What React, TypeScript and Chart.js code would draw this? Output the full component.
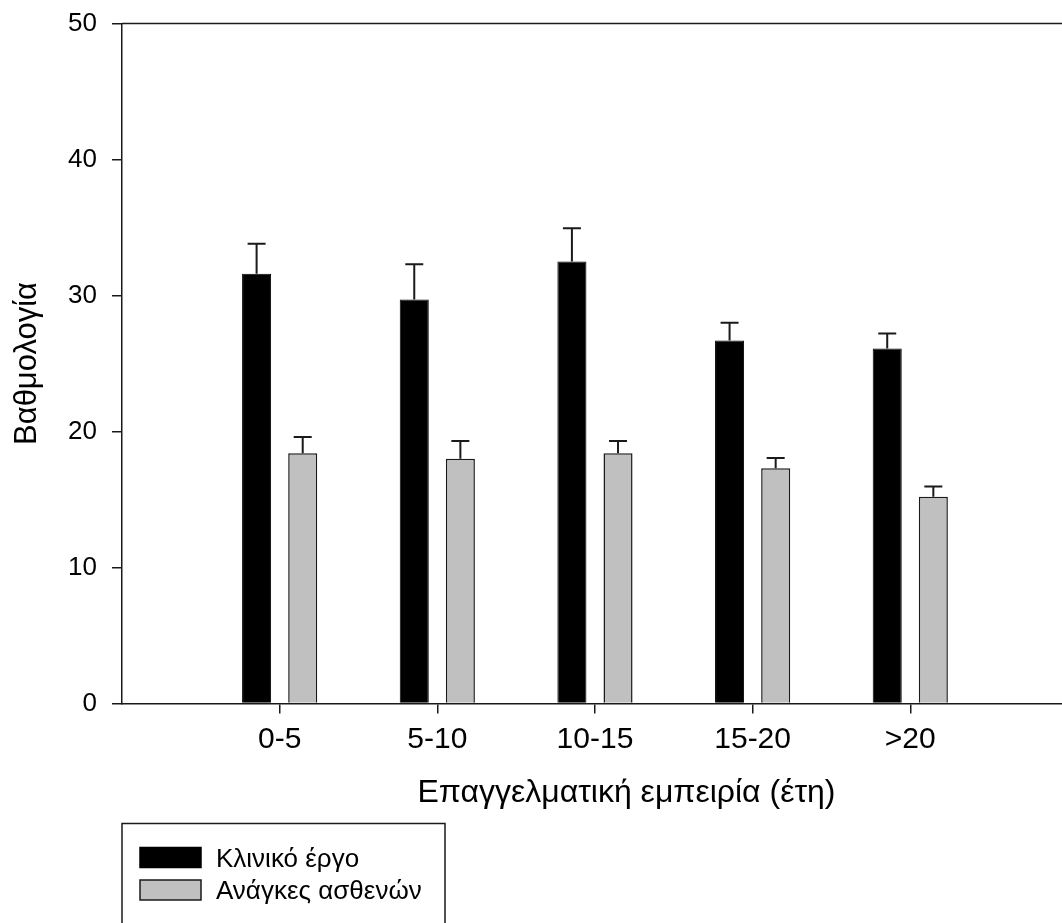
import React, { useEffect, useRef } from 'react';
import { Chart, registerables } from 'chart.js';

Chart.register(...registerables);

const categories = ['0-5', '5-10', '10-15', '15-20', '>20'];
const seriesLabels = ['Κλινικό έργο', 'Ανάγκες ασθενών'];
const clinicalWork = [31.6, 29.7, 32.5, 26.7, 26.1];
const clinicalWorkErr = [2.2, 2.6, 2.45, 1.3, 1.1];
const patientNeeds = [18.4, 18.0, 18.4, 17.3, 15.2];
const patientNeedsErr = [1.2, 1.3, 0.9, 0.75, 0.75];
const yTicks = [0, 10, 20, 30, 40, 50];
const xTitle = 'Επαγγελματική εμπειρία (έτη)';
const yTitle = 'Βαθμολογία';

const FONT = '"Liberation Sans", Arial, sans-serif';
const INK = '#1a1a1a';

const errorBarPlugin = {
  id: 'errorBars',
  afterDatasetsDraw(chart: any) {
    const ctx = chart.ctx;
    const yScale = chart.scales.y;
    chart.data.datasets.forEach((ds: any, di: number) => {
      const meta = chart.getDatasetMeta(di);
      meta.data.forEach((bar: any, i: number) => {
        const v = ds.data[i].y + ds.errors[i];
        const top = yScale.getPixelForValue(v);
        ctx.save();
        ctx.strokeStyle = INK;
        ctx.lineWidth = 2;
        ctx.beginPath();
        ctx.moveTo(bar.x, bar.y);
        ctx.lineTo(bar.x, top);
        ctx.moveTo(bar.x - 9, top);
        ctx.lineTo(bar.x + 9, top);
        ctx.stroke();
        ctx.restore();
      });
    });
  },
};

const framePlugin = {
  id: 'frame',
  afterDraw(chart: any) {
    const { ctx, chartArea } = chart;
    ctx.save();
    ctx.strokeStyle = INK;
    ctx.lineWidth = 1.5;
    ctx.beginPath();
    ctx.moveTo(chartArea.left, chartArea.top);
    ctx.lineTo(chartArea.right, chartArea.top);
    ctx.lineTo(chartArea.right, chartArea.bottom);
    ctx.stroke();
    ctx.restore();
  },
};

const boxLegendPlugin = {
  id: 'boxLegend',
  afterDraw(chart: any) {
    const { ctx, chartArea } = chart;
    const left = chartArea.left;
    const top = chartArea.bottom + 120;
    const width = 323;
    ctx.save();
    ctx.strokeStyle = INK;
    ctx.lineWidth = 1.5;
    ctx.strokeRect(left, top, width, 140);
    ctx.font = `26px ${FONT}`;
    ctx.textBaseline = 'alphabetic';
    ctx.textAlign = 'left';
    chart.data.datasets.forEach((ds: any, i: number) => {
      const sy = top + 24 + i * 32.5;
      ctx.fillStyle = ds.backgroundColor;
      ctx.fillRect(left + 18, sy, 61, 20);
      ctx.strokeStyle = ds.borderColor;
      ctx.lineWidth = 1.5;
      ctx.strokeRect(left + 18, sy, 61, 20);
      ctx.fillStyle = '#000';
      ctx.fillText(ds.label, left + 94, sy + 19);
    });
    ctx.restore();
  },
};

const makeData = (vals: number[]) => vals.map((y, i) => ({ x: i + 1, y }));

export default function App() {
  const ref = useRef<HTMLCanvasElement>(null);
  useEffect(() => {
    if (!ref.current) return;
    const chart = new Chart(ref.current, {
      type: 'bar',
      data: {
        datasets: [
          {
            label: seriesLabels[0],
            data: makeData(clinicalWork),
            errors: clinicalWorkErr,
            backgroundColor: '#000000',
            borderColor: '#000000',
            borderWidth: 1,
            barPercentage: 0.63,
            categoryPercentage: 0.585,
          } as any,
          {
            label: seriesLabels[1],
            data: makeData(patientNeeds),
            errors: patientNeedsErr,
            backgroundColor: '#c0c0c0',
            borderColor: INK,
            borderWidth: 1.5,
            barPercentage: 0.63,
            categoryPercentage: 0.585,
          } as any,
        ],
      },
      options: {
        responsive: false,
        animation: false,
        layout: { padding: { top: 23.5, right: 9, bottom: 0, left: 0 } },
        plugins: {
          legend: { display: false },
          tooltip: { enabled: false },
        },
        scales: {
          x: {
            type: 'linear',
            min: 0,
            max: 6.4,
            offset: false,
            afterBuildTicks: (s: any) => {
              s.ticks = categories.map((_, i) => ({ value: i + 1 }));
            },
            afterFit: (s: any) => {
              s.height = 219.5;
              s.paddingLeft = 0;
              s.paddingRight = 0;
            },
            ticks: {
              callback: (v: any) => categories[Number(v) - 1] ?? '',
              font: { size: 30, family: FONT },
              color: '#000',
              padding: 8,
              maxRotation: 0,
              autoSkip: false,
            },
            grid: {
              display: true,
              offset: false,
              drawOnChartArea: false,
              drawTicks: true,
              tickLength: 10,
              color: INK,
              lineWidth: 1.5,
            },
            border: { display: true, color: INK, width: 1.5 },
            title: {
              display: true,
              text: xTitle,
              font: { size: 32, family: FONT },
              color: '#000',
              padding: { top: 0, bottom: 111 },
            },
          },
          y: {
            min: 0,
            max: 50,
            afterBuildTicks: (s: any) => {
              s.ticks = yTicks.map((v) => ({ value: v }));
            },
            afterFit: (s: any) => {
              s.width = 122;
              s.paddingTop = 0;
              s.paddingBottom = 0;
            },
            ticks: {
              font: { size: 26, family: FONT },
              color: '#000',
              padding: 15,
            },
            grid: {
              display: true,
              drawOnChartArea: false,
              drawTicks: true,
              tickLength: 10,
              color: INK,
              lineWidth: 1.5,
            },
            border: { display: true, color: INK, width: 1.5 },
            title: {
              display: true,
              text: yTitle,
              font: { size: 31, family: FONT },
              color: '#000',
              padding: { top: 9, bottom: 0 },
            },
          },
        },
      } as any,
      plugins: [errorBarPlugin, framePlugin, boxLegendPlugin],
    });
    return () => chart.destroy();
  }, []);

  return (
    <div
      style={{
        position: 'fixed',
        left: 0,
        top: 0,
        width: 1062,
        height: 923,
        overflow: 'hidden',
        background: '#fff',
      }}
    >
      <canvas
        ref={ref}
        width={1140}
        height={923}
        style={{ display: 'block', width: 1140, height: 923 }}
      />
    </div>
  );
}
